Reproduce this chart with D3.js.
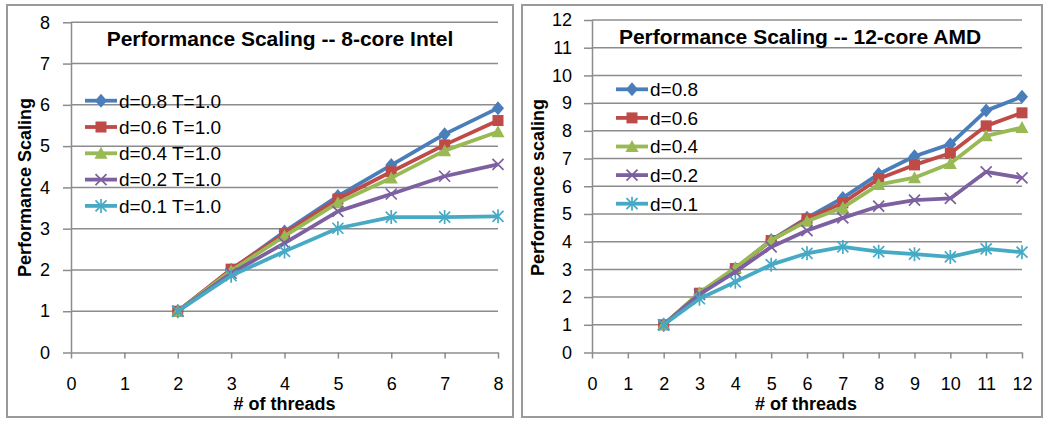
<!DOCTYPE html>
<html>
<head>
<meta charset="utf-8">
<script src="https://cdn.jsdelivr.net/npm/d3@7"></script>
<style>
  html, body { margin: 0; padding: 0; background: #fff; }
  svg { display: block; }
  text { font-family: "Liberation Sans", Arial, sans-serif; fill: #000; }
</style>
</head>
<body>
<svg id="chart" width="1050" height="421"></svg>
<script>
// ---------- DATA ----------
const intelThreads = [2, 3, 4, 5, 6, 7, 8];
const intelLabels = ["d=0.8 T=1.0", "d=0.6 T=1.0", "d=0.4 T=1.0", "d=0.2 T=1.0", "d=0.1 T=1.0"];
const intelD08 = [1, 2.00, 2.93, 3.79, 4.54, 5.29, 5.92];
const intelD06 = [1, 2.02, 2.88, 3.72, 4.38, 5.03, 5.62];
const intelD04 = [1, 1.98, 2.82, 3.63, 4.23, 4.89, 5.35];
const intelD02 = [1, 1.92, 2.65, 3.42, 3.84, 4.27, 4.56];
const intelD01 = [1, 1.86, 2.45, 3.01, 3.28, 3.28, 3.30];
const intelXTicks = [0, 1, 2, 3, 4, 5, 6, 7, 8];
const intelYTicks = [0, 1, 2, 3, 4, 5, 6, 7, 8];

const amdThreads = [2, 3, 4, 5, 6, 7, 8, 9, 10, 11, 12];
const amdLabels = ["d=0.8", "d=0.6", "d=0.4", "d=0.2", "d=0.1"];
const amdD08 = [1, 2.10, 3.02, 4.06, 4.86, 5.58, 6.44, 7.08, 7.52, 8.73, 9.23];
const amdD06 = [1, 2.14, 3.03, 4.04, 4.82, 5.40, 6.27, 6.77, 7.19, 8.18, 8.65];
const amdD04 = [1, 2.16, 3.06, 4.05, 4.74, 5.23, 6.06, 6.31, 6.82, 7.82, 8.12];
const amdD02 = [1, 2.10, 2.91, 3.81, 4.40, 4.86, 5.28, 5.50, 5.56, 6.52, 6.30];
const amdD01 = [1, 1.94, 2.55, 3.17, 3.58, 3.81, 3.64, 3.55, 3.45, 3.74, 3.62];
const amdXTicks = [0, 1, 2, 3, 4, 5, 6, 7, 8, 9, 10, 11, 12];
const amdYTicks = [0, 1, 2, 3, 4, 5, 6, 7, 8, 9, 10, 11, 12];

// ---------- STYLE ----------
const colors = ["#4A7EBB", "#BE4B48", "#98B954", "#7D60A0", "#46AAC5"];
const markers = ["diamond", "square", "triangle", "x", "asterisk"];
const gridColor = "#8c8c8c";

const svg = d3.select("#chart");

function drawMarker(g, type, color, cx, cy) {
  if (type === "diamond") {
    g.append("path").attr("d", `M${cx},${cy - 7}L${cx + 6},${cy}L${cx},${cy + 7}L${cx - 6},${cy}Z`)
      .attr("fill", color);
  } else if (type === "square") {
    g.append("rect").attr("x", cx - 5.5).attr("y", cy - 5.5).attr("width", 11).attr("height", 11)
      .attr("fill", color);
  } else if (type === "triangle") {
    g.append("path").attr("d", `M${cx},${cy - 6.5}L${cx + 6.5},${cy + 5.5}L${cx - 6.5},${cy + 5.5}Z`)
      .attr("fill", color);
  } else if (type === "x") {
    g.append("path").attr("d", `M${cx - 5.5},${cy - 5.5}L${cx + 5.5},${cy + 5.5}M${cx - 5.5},${cy + 5.5}L${cx + 5.5},${cy - 5.5}`)
      .attr("stroke", color).attr("stroke-width", 1.7).attr("fill", "none");
  } else if (type === "asterisk") {
    g.append("path").attr("d", `M${cx - 5.5},${cy - 5.5}L${cx + 5.5},${cy + 5.5}M${cx - 5.5},${cy + 5.5}L${cx + 5.5},${cy - 5.5}M${cx},${cy - 7}L${cx},${cy + 7}`)
      .attr("stroke", color).attr("stroke-width", 1.7).attr("fill", "none");
  }
}

function drawChart(cfg) {
  const g = svg.append("g");
  // panel border
  g.append("rect").attr("x", cfg.panel[0]).attr("y", cfg.panel[1])
    .attr("width", cfg.panel[2]).attr("height", cfg.panel[3])
    .attr("fill", "#fff").attr("stroke", "#9a9a9a").attr("stroke-width", 2);

  const x = d3.scaleLinear().domain([cfg.xTicks[0], cfg.xTicks[cfg.xTicks.length - 1]]).range(cfg.xRange);
  const y = d3.scaleLinear().domain([cfg.yTicks[0], cfg.yTicks[cfg.yTicks.length - 1]]).range(cfg.yRange);

  // gridlines
  g.append("g").selectAll("line").data(cfg.yTicks.slice(1)).join("line")
    .attr("x1", cfg.xRange[0]).attr("x2", cfg.xRange[1])
    .attr("y1", d => y(d)).attr("y2", d => y(d))
    .attr("stroke", gridColor).attr("stroke-width", 1.5);

  // y axis
  const yAxis = g.append("g").attr("transform", `translate(${cfg.xRange[0]},0)`)
    .call(d3.axisLeft(y).tickValues(cfg.yTicks).tickSize(8).tickPadding(cfg.yPad).tickSizeOuter(0));
  yAxis.select(".domain").attr("stroke", gridColor).attr("stroke-width", 1.5);
  yAxis.selectAll(".tick line").attr("stroke", gridColor).attr("stroke-width", 1.5);
  yAxis.selectAll(".tick text").attr("font-size", 18).attr("font-family", "Liberation Sans, Arial, sans-serif").attr("fill", "#000");

  // x axis
  const xAxis = g.append("g").attr("transform", `translate(0,${cfg.yRange[0]})`)
    .call(d3.axisBottom(x).tickValues(cfg.xTicks).tickSize(6).tickPadding(19).tickSizeOuter(0));
  xAxis.select(".domain").attr("stroke", gridColor).attr("stroke-width", 1.5);
  xAxis.selectAll(".tick line").attr("stroke", gridColor).attr("stroke-width", 1.5);
  xAxis.selectAll(".tick text").attr("font-size", 18).attr("font-family", "Liberation Sans, Arial, sans-serif").attr("fill", "#000");

  // titles
  g.append("text").attr("x", cfg.titlePos[0]).attr("y", cfg.titlePos[1])
    .attr("text-anchor", "middle").attr("font-size", 21).attr("font-weight", "bold").text(cfg.title);
  g.append("text").attr("x", cfg.xTitlePos[0]).attr("y", cfg.xTitlePos[1])
    .attr("text-anchor", "middle").attr("font-size", 18).attr("font-weight", "bold").text("# of threads");
  g.append("text").attr("transform", `translate(${cfg.yTitlePos[0]},${cfg.yTitlePos[1]}) rotate(-90)`)
    .attr("text-anchor", "middle").attr("font-size", 18).attr("font-weight", "bold").text(cfg.yTitle);

  // series
  const line = d3.line().x((d, i) => x(cfg.threads[i])).y(d => y(d));
  cfg.series.forEach((vals, si) => {
    const sg = g.append("g");
    sg.append("path").datum(vals).attr("d", line).attr("fill", "none")
      .attr("stroke", colors[si]).attr("stroke-width", 3.8).attr("stroke-linejoin", "round");
    vals.forEach((v, i) => drawMarker(sg, markers[si], colors[si], x(cfg.threads[i]), y(v)));
  });

  // legend
  cfg.labels.forEach((lab, si) => {
    const ly = cfg.legendPos[1] + si * cfg.legendStep;
    const lg = g.append("g");
    lg.append("line").attr("x1", cfg.legendPos[0]).attr("x2", cfg.legendPos[0] + 32)
      .attr("y1", ly).attr("y2", ly).attr("stroke", colors[si]).attr("stroke-width", 3.8);
    drawMarker(lg, markers[si], colors[si], cfg.legendPos[0] + 16, ly);
    lg.append("text").attr("x", cfg.legendPos[0] + 34).attr("y", ly).attr("dy", "0.36em")
      .attr("font-size", 19).text(lab);
  });
}

drawChart({
  panel: [7, 5, 506, 412],
  xRange: [71, 498], yRange: [352.5, 22.3],
  xTicks: intelXTicks, yTicks: intelYTicks, yPad: 13,
  threads: intelThreads,
  series: [intelD08, intelD06, intelD04, intelD02, intelD01],
  labels: intelLabels,
  title: "Performance Scaling -- 8-core Intel", titlePos: [280, 46],
  xTitlePos: [284.5, 410], yTitle: "Performance Scaling", yTitlePos: [31, 187.5],
  legendPos: [85, 100.7], legendStep: 26.3
});

drawChart({
  panel: [522, 5, 520, 412],
  xRange: [592, 1022], yRange: [352.5, 20],
  xTicks: amdXTicks, yTicks: amdYTicks, yPad: 12,
  threads: amdThreads,
  series: [amdD08, amdD06, amdD04, amdD02, amdD01],
  labels: amdLabels,
  title: "Performance Scaling -- 12-core AMD", titlePos: [800, 44],
  xTitlePos: [806, 410], yTitle: "Performance scaling", yTitlePos: [544, 187.5],
  legendPos: [616, 89.3], legendStep: 28.6
});
</script>
</body>
</html>
